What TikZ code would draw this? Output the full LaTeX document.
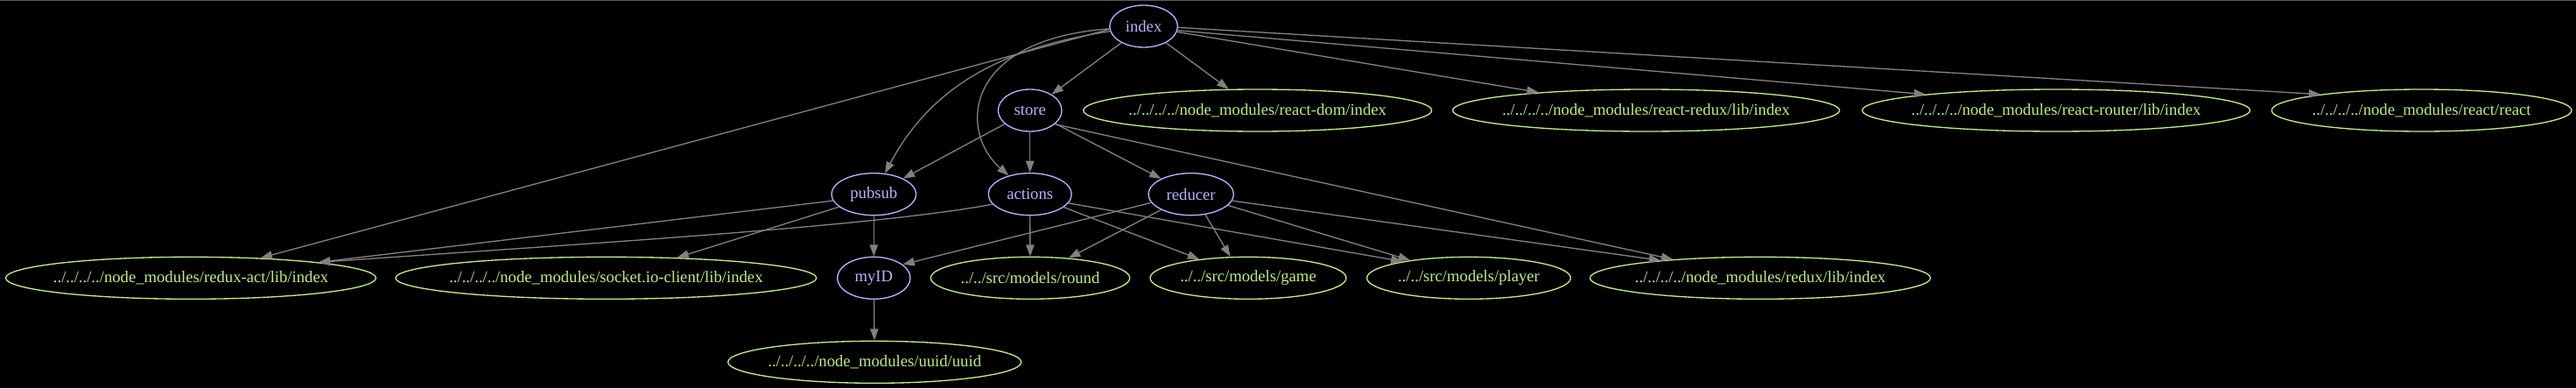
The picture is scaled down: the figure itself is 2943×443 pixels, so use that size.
\documentclass[tikz,border=0pt]{standalone}
\usepackage{fontspec}
\setmainfont{Liberation Serif}
\usetikzlibrary{shapes.geometric,arrows.meta}
\definecolor{lav}{RGB}{180,180,255}
\definecolor{grn}{RGB}{187,238,136}
\definecolor{edg}{RGB}{128,128,128}
\definecolor{frm}{RGB}{90,90,90}
\newcommand\zw[1]{\makebox[0pt]{#1}}
\begin{document}
\begin{tikzpicture}[x=0.75pt,y=-0.75pt,
  base/.style={ellipse,line width=1pt,inner sep=0pt,minimum height=36pt,font=\fontsize{14}{16}\selectfont},
  mod/.style={base,draw=lav,text=lav},
  ext/.style={base,draw=grn,text=grn},
  dep/.style={draw=edg,line width=1pt,-{Triangle[length=10pt,width=7pt]}}]
\fill[black] (0,0) rectangle (2943,443);
\useasboundingbox (0,0) rectangle (2943,443);
\draw[frm,line width=1pt] (0,0.7) -- (2943,0.7);
% own modules
\node[mod,minimum width=58.2pt] (index) at (1306.6,30) {\zw{index}};
\node[mod,minimum width=54.5pt] (store) at (1176.7,126) {\zw{store}};
\node[mod,minimum width=72.5pt] (pubsub) at (998.3,221.7) {\zw{pubsub}};
\node[mod,minimum width=71.3pt] (actions) at (1176.7,221.7) {\zw{actions}};
\node[mod,minimum width=73pt] (reducer) at (1360.7,221.7) {\zw{reducer}};
\node[mod,minimum width=62.5pt] (myID) at (998.3,317.3) {\zw{myID}};
% external modules
\node[ext,minimum width=298.5pt] (reactdom) at (1436.7,126) {\zw{../../../../node\_modules/react-dom/index}};
\node[ext,minimum width=331.5pt] (reactredux) at (1880.6,126) {\zw{../../../../node\_modules/react-redux/lib/index}};
\node[ext,minimum width=332.4pt] (reactrouter) at (2349,126) {\zw{../../../../node\_modules/react-router/lib/index}};
\node[ext,minimum width=257pt] (react) at (2766.6,126) {\zw{../../../../node\_modules/react/react}};
\node[ext,minimum width=317.3pt] (reduxact) at (218,317.3) {\zw{../../../../node\_modules/redux-act/lib/index}};
\node[ext,minimum width=360.6pt] (socket) at (692.4,317.3) {\zw{../../../../node\_modules/socket.io-client/lib/index}};
\node[ext,minimum width=170.5pt] (round) at (1177,317.3) {\zw{../../src/models/round}};
\node[ext,minimum width=168pt] (game) at (1426,317.3) {\zw{../../src/models/game}};
\node[ext,minimum width=174.6pt] (player) at (1678,317.3) {\zw{../../src/models/player}};
\node[ext,minimum width=291.8pt] (redux) at (2011,317.3) {\zw{../../../../node\_modules/redux/lib/index}};
\node[ext,minimum width=251.3pt] (uuid) at (999.2,413.3) {\zw{../../../../node\_modules/uuid/uuid}};
% edges
\draw[dep] (index) -- (store);
\draw[dep] (index) -- (reactdom);
\draw[dep] (index) -- (reactredux);
\draw[dep] (index.-7.2) -- (reactrouter.173.4);
\draw[dep] (index.-2.9) -- (react.171.2);
\draw[dep] (index.185.7) -- (reduxact.16.8);
\draw[dep] (index) .. controls (1140,55) and (1062,102) .. (pubsub);
\draw[dep] (index) .. controls (1100,45) and (1095,150) .. (actions);
\draw[dep] (store) -- (pubsub);
\draw[dep] (store) -- (actions);
\draw[dep] (store) -- (reducer);
\draw[dep] (store.-29.4) -- (redux.168.4);
\draw[dep] (pubsub) -- (myID);
\draw[dep] (pubsub.-160.2) -- (socket.16.9);
\draw[dep] (pubsub.-171) -- (reduxact.7.5);
\draw[dep] (actions.-165.4) .. controls (1000,258) and (700,276) .. (reduxact.7.1);
\draw[dep] (actions) -- (round);
\draw[dep] (actions) -- (game);
\draw[dep] (actions.-13) -- (player.166.8);
\draw[dep] (reducer.-168.1) -- (myID.25.2);
\draw[dep] (reducer) -- (round);
\draw[dep] (reducer.-55.9) -- (game.130.9);
\draw[dep] (reducer) -- (player);
\draw[dep] (reducer.-9.6) -- (redux.170.8);
\draw[dep] (myID) -- (uuid);
\end{tikzpicture}
\end{document}
